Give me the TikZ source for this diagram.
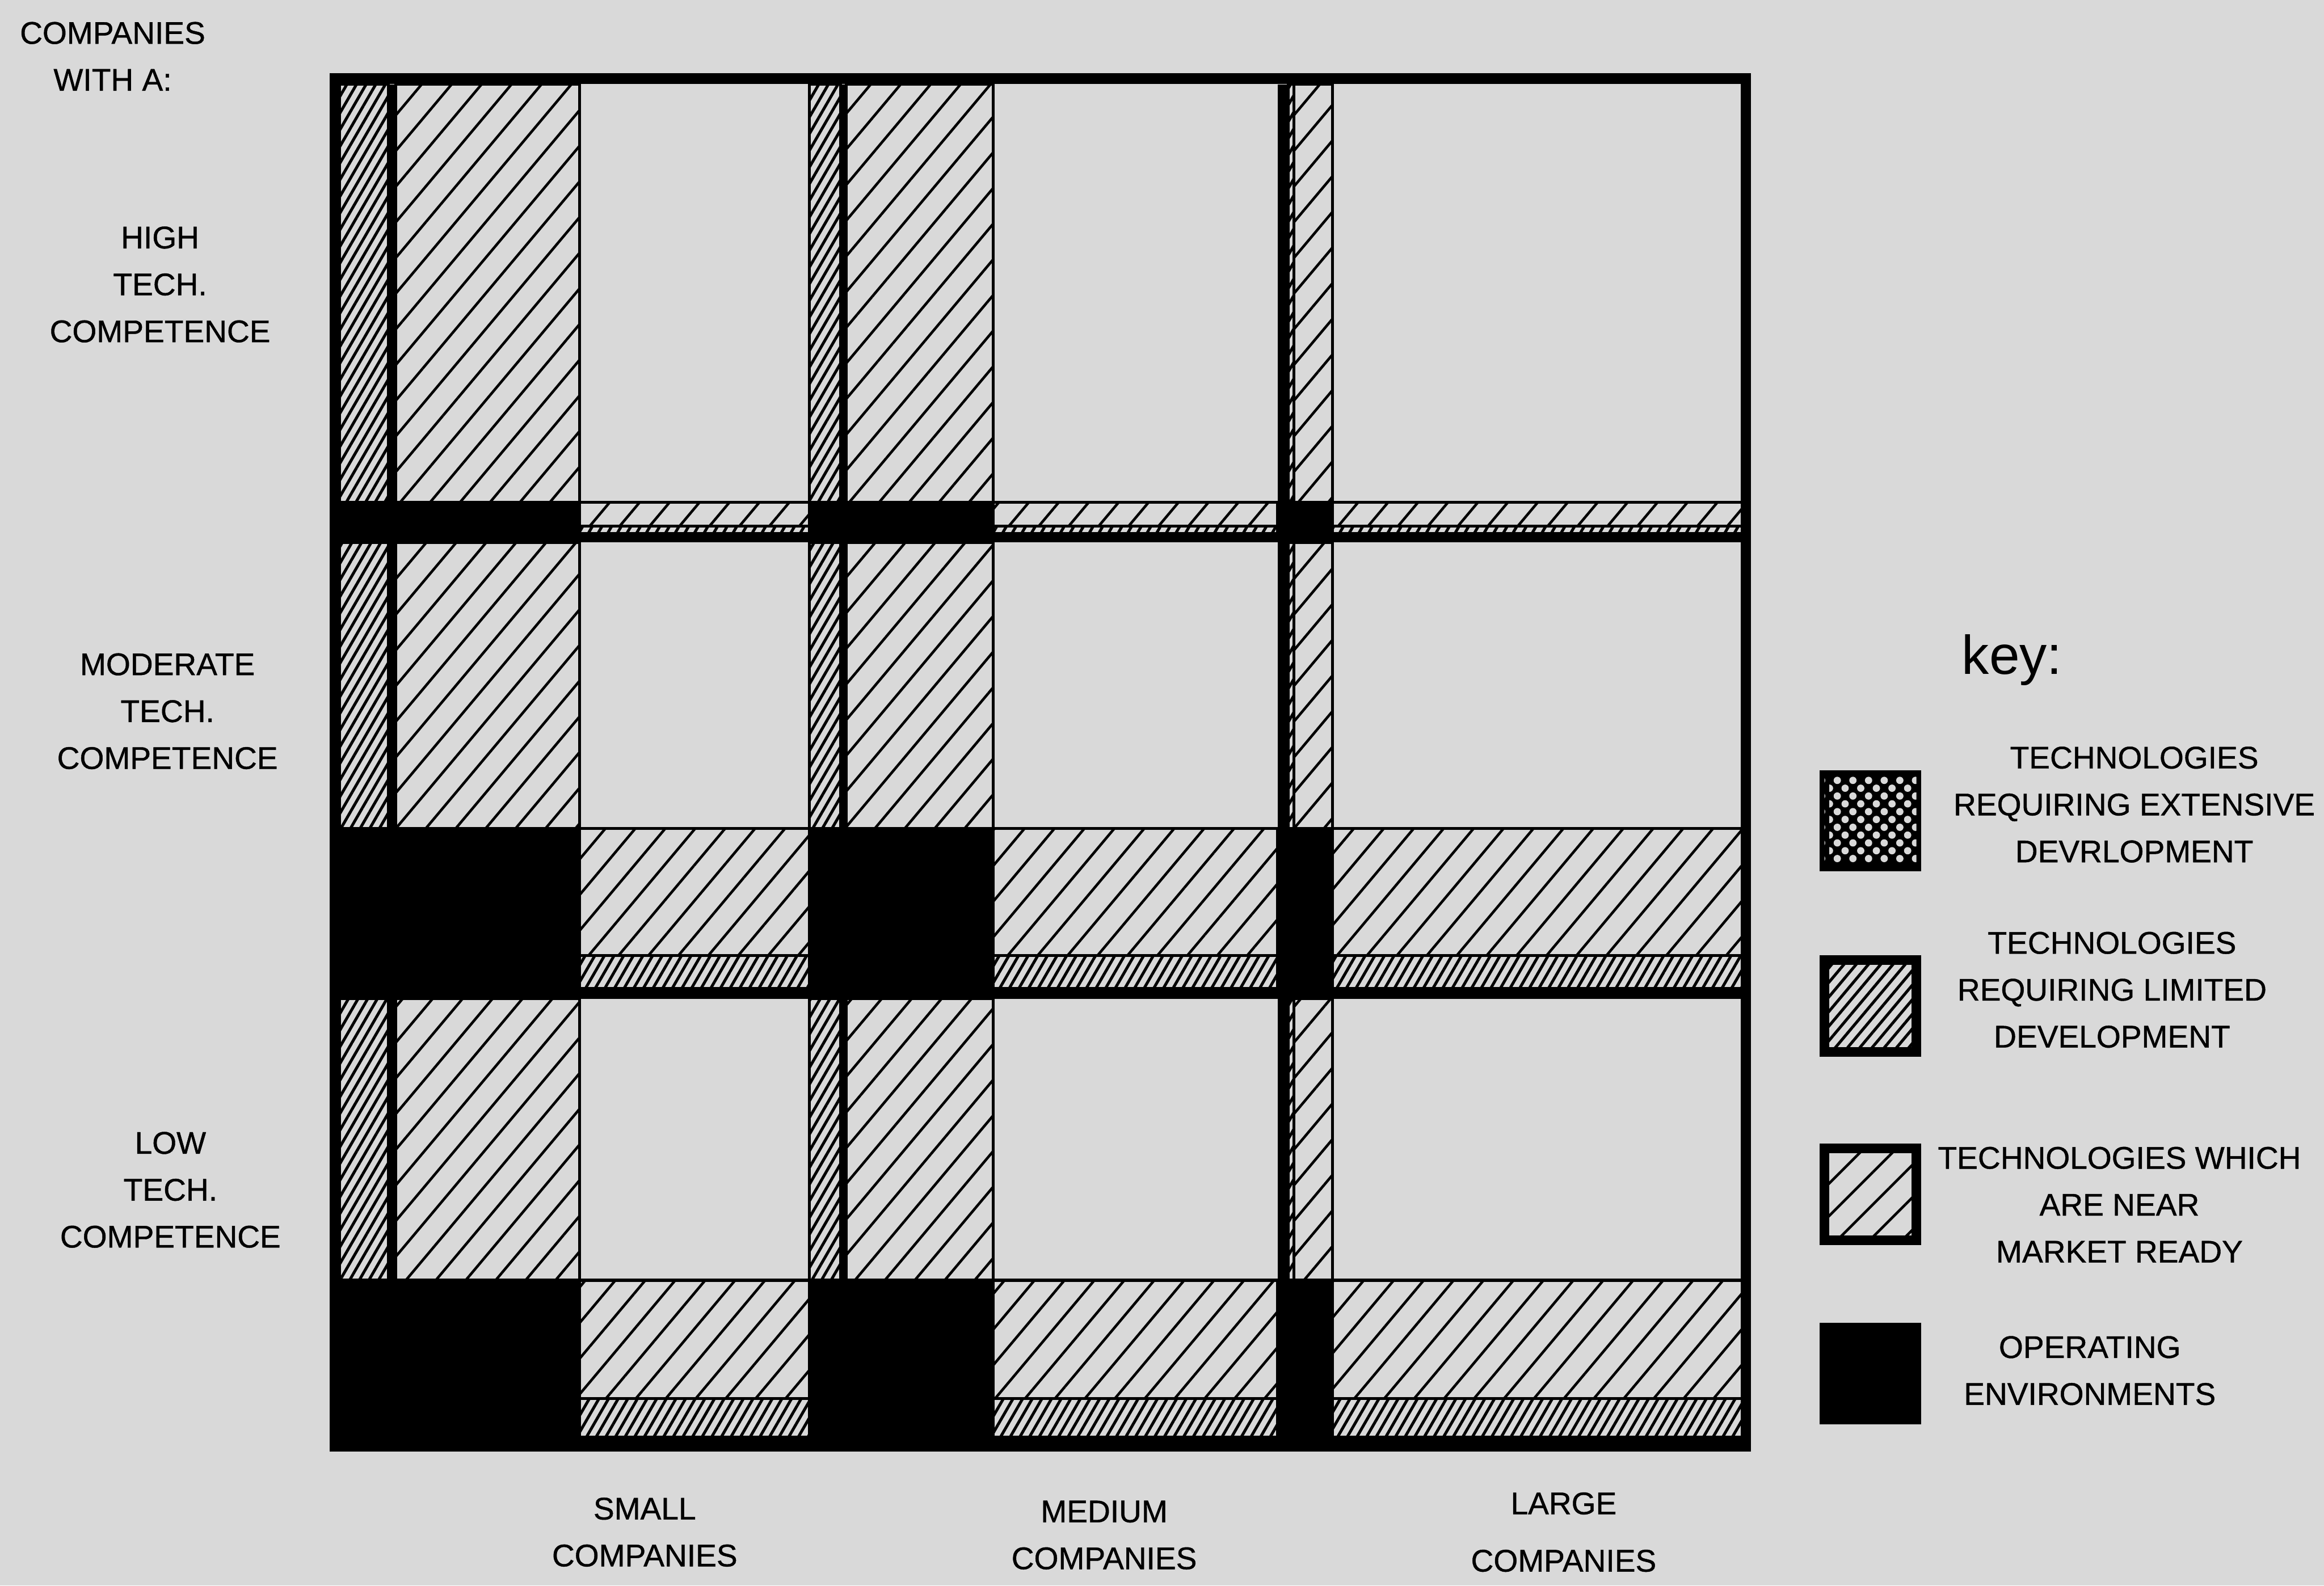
\documentclass[tikz,border=0pt]{standalone}
\usepackage{fontspec}
\setmainfont{Liberation Sans}
\newfontfamily\labelfont{Liberation Sans}[BoldFont={Liberation Sans}, BoldFeatures={FakeBold=0.8}]
\usetikzlibrary{patterns.meta}
\definecolor{paper}{gray}{0.85}

\begin{document}
\begin{tikzpicture}[x=0.01cm, y=-0.01cm, every node/.style={inner sep=0pt, align=center, font=\labelfont\bfseries\fontsize{6}{9}\selectfont},
    coarse/.style={draw, line width=0.55pt, pattern={Lines[angle=50, distance=4.4pt, line width=0.5pt]}},
    fine/.style={draw, line width=0.55pt, pattern={Lines[angle=60, distance=1.6pt, line width=0.55pt]}},
    keybox/.style={draw, line width=1.8pt, minimum width=0.62cm, minimum height=0.62cm}]
  \useasboundingbox[fill=paper] (0,0) rectangle (1568,1070);

  \foreach \s/\fa/\fb/\ka/\kb/\ca/\cb/\e in {229/229/262/262/267/267/391/546, 546/546/567/567/571/571/670/862, 862/869/873/862/869/873/899/1176}{
    \foreach \t/\u/\v/\w/\z in {57/339/355/360/366, 366/559/645/667/674, 674/864/944/970/976}{
      \draw[fine] (\fa,\t) rectangle (\fb,\u);
      \fill (\ka,\t) rectangle (\kb,\u);
      \draw[coarse] (\ca,\t) rectangle (\cb,\u);
      \fill (\s,\u) rectangle (\cb,\z);
      \draw[coarse] (\cb,\u) rectangle (\e,\v);
      \draw[fine] (\cb,\v) rectangle (\e,\w);
      \fill (\cb,\w) rectangle (\e,\z);
    }
  }
  \draw[line width=2pt] (226,53) rectangle (1178,976);

  \node (with) at (76,38) {COMPANIES\\WITH A:};
  \node (high) at (108,192) {HIGH\\TECH.\\COMPETENCE};
  \node (moderate) at (113,480) {MODERATE\\TECH.\\COMPETENCE};
  \node (low) at (115,803) {LOW\\TECH.\\COMPETENCE};
  \node (small) at (435,1034) {SMALL\\COMPANIES};
  \node (medium) at (745,1036) {MEDIUM\\COMPANIES};
  \node (large) at (1055,1034) {LARGE\\[2pt]COMPANIES};

  \node[anchor=base west, font=\fontsize{10.5}{12}\selectfont] (key) at (1323,455) {key:};
  \node[keybox, preaction={fill=black}, pattern={Dots[distance=3pt, radius=0.7pt]}, pattern color=paper,
    postaction={pattern={Dots[distance=3pt, radius=0.7pt, xshift=1.5pt, yshift=1.5pt]}, pattern color=paper}] (extbox) at (1262,554) {};
  \node[keybox, pattern={Lines[angle=50, distance=1.8pt, line width=0.55pt]}] (limbox) at (1262,679) {};
  \node[keybox, pattern={Lines[angle=45, distance=4.4pt, line width=0.5pt]}] (nearbox) at (1262,806) {};
  \node[keybox, fill=black] (opbox) at (1262,927) {};

  \node (extlbl) at (1440,543) {TECHNOLOGIES\\REQUIRING EXTENSIVE\\DEVRLOPMENT};
  \node (limlbl) at (1425,668) {TECHNOLOGIES\\REQUIRING LIMITED\\DEVELOPMENT};
  \node (nearlbl) at (1430,813) {TECHNOLOGIES WHICH\\ARE NEAR\\MARKET READY};
  \node (oplbl) at (1410,925) {OPERATING\\ENVIRONMENTS};
\end{tikzpicture}
\end{document}
